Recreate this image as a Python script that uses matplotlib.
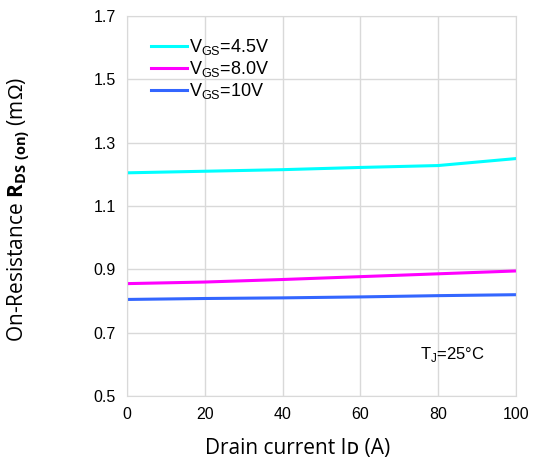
import numpy as np
import matplotlib.pyplot as plt

plt.rcParams['font.family'] = ['Liberation Sans', 'DejaVu Sans']
plt.rcParams['mathtext.fontset'] = 'custom'
plt.rcParams['mathtext.rm'] = 'Liberation Sans'
plt.rcParams['mathtext.bf'] = 'Open Sans:bold'

# Data
drain_current = [0, 20, 40, 60, 80, 100]
r_vgs_4v5 = [1.205, 1.210, 1.215, 1.222, 1.228, 1.250]
r_vgs_8v0 = [0.855, 0.860, 0.868, 0.877, 0.886, 0.895]
r_vgs_10v = [0.805, 0.808, 0.810, 0.813, 0.817, 0.820]

x_ticks = [0, 20, 40, 60, 80, 100]
y_ticks = [0.5, 0.7, 0.9, 1.1, 1.3, 1.5, 1.7]

fig = plt.figure(figsize=(5.39, 4.61), dpi=100)
ax = fig.add_axes([0.2356, 0.141, 0.7214, 0.824])

ax.plot(drain_current, r_vgs_4v5, color='#00ffff', lw=2.2, label=r'V$_{\rm GS}$=4.5V')
ax.plot(drain_current, r_vgs_8v0, color='#ff00ff', lw=2.2, label=r'V$_{\rm GS}$=8.0V')
ax.plot(drain_current, r_vgs_10v, color='#3366ff', lw=2.2, label=r'V$_{\rm GS}$=10V')

ax.set_xlim(0, 100)
ax.set_ylim(0.5, 1.7)
ax.set_xticks(x_ticks)
ax.set_yticks(y_ticks)
ax.set_yticklabels([f'{v:.1f}' for v in y_ticks])
ax.tick_params(length=0, labelsize=11.5, pad=8)
ax.grid(True, color='#d9d9d9', lw=1)
for s in ax.spines.values():
    s.set_color('#d9d9d9')

ax.legend(loc='upper left', bbox_to_anchor=(0.02, 0.987), frameon=False, fontsize=13,
          handlelength=2.0, handletextpad=0.1, labelspacing=0.1, borderaxespad=0.5)

ax.text(0.753, 0.108, r'T$_{\rm J}$=25°C', transform=ax.transAxes, ha='left', va='center', fontsize=12)

ax.set_xlabel('Drain current I\u1d05 (A)', family=['Open Sans', 'DejaVu Sans'], fontsize=15)
ax.xaxis.set_label_coords(0.44, -0.111)
ax.set_ylabel(r'On-Resistance $\mathbf{R}_{\mathbf{DS\ (on)}}$ (m$\Omega$)', family='Open Sans',
              fontsize=15)
ax.yaxis.set_label_coords(-0.245, 0.49)

plt.savefig('out.png', dpi=100)
